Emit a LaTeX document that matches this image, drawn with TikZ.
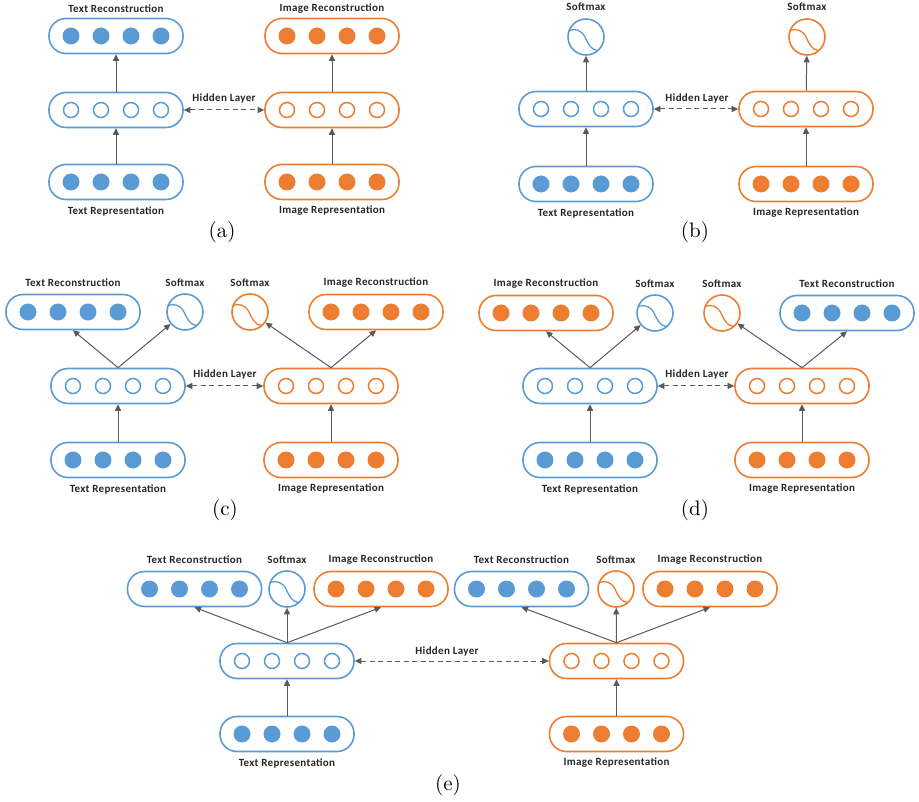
\documentclass[tikz,border=0pt]{standalone}
\usepackage{fontspec}
\newfontfamily\carlito{Carlito}[LetterSpace=3]
\newfontfamily\capfont{lmroman10-regular.otf}
\usetikzlibrary{arrows.meta}
\definecolor{tblue}{HTML}{5B9BD5}
\definecolor{torange}{HTML}{ED7D31}
\definecolor{arrowgray}{HTML}{595959}

\tikzset{
  layer/.style={draw=#1, line width=1.6pt, rounded corners=17pt, minimum width=134pt,
    minimum height=35pt, inner sep=0pt},
  dotfull/.style={circle, fill=#1, minimum size=17pt, inner sep=0pt},
  dotopen/.style={circle, draw=#1, line width=1.5pt, minimum size=15pt, inner sep=0pt},
  smbox/.style={circle, draw=#1, line width=1.6pt, minimum size=36pt, inner sep=0pt},
  smcurve/.style={draw=#1, line width=1.3pt},
  lab/.style={font=\carlito\bfseries\fontsize{11}{13}\selectfont, text=black!85, inner sep=0pt},
  caption/.style={font=\capfont\fontsize{21}{25}\selectfont, inner sep=0pt},
  feed/.style={draw=arrowgray, line width=1pt, -{Triangle[length=6.5pt,width=6pt]}},
  link/.style={draw=arrowgray, line width=1pt, dash pattern=on 5pt off 3.5pt,
    {Triangle[length=6.5pt,width=6pt]}-{Triangle[length=6.5pt,width=6pt]}},
}

% a rounded layer with four units: name, x, y, colour, unit style
\newcommand\layerbox[5]{%
  \node[layer=#4] (#1) at (#2,#3) {};
  \foreach \k/\dx in {1/-45,2/-15,3/15,4/45}
    \node[#5=#4] (#1-\k) at ([xshift=\dx pt]#1.center) {};
}
% a softmax unit drawn as a circle holding a sigmoid: name, x, y, colour
\newcommand\softmaxunit[4]{%
  \node[smbox=#4] (#1) at (#2,#3) {};
  \draw[smcurve=#4] ([shift={(-17.2,-6.5)}]#1.center)
    .. controls ([shift={(-11,-8.5)}]#1.center) and ([shift={(-5,-7.5)}]#1.center)
    .. ([shift={(-1,0)}]#1.center)
    .. controls ([shift={(2,6.5)}]#1.center) and ([shift={(5,13)}]#1.center)
    .. ([shift={(11.5,13.5)}]#1.center);
}

\begin{document}
\begin{tikzpicture}[x=1pt, y=-1pt]
\useasboundingbox (0,0) rectangle (919,802);

% ---------- (a) ----------
\layerbox{aTR}{116}{36}{tblue}{dotfull}
\layerbox{aTH}{116}{110}{tblue}{dotopen}
\layerbox{aTI}{116}{182}{tblue}{dotfull}
\layerbox{aIR}{332}{36}{torange}{dotfull}
\layerbox{aIH}{332}{110}{torange}{dotopen}
\layerbox{aII}{332}{182}{torange}{dotfull}
\node[lab] (aTRl) at (116,9) {Text Reconstruction};
\node[lab] (aIRl) at (332,9) {Image Reconstruction};
\node[lab] (aTIl) at (116,211) {Text Representation};
\node[lab] (aIIl) at (332,211) {Image Representation};
\draw[feed] (aTI) -- (aTH);
\draw[feed] (aTH) -- (aTR);
\draw[feed] (aII) -- (aIH);
\draw[feed] (aIH) -- (aIR);
\draw[link] (aTH) -- (aIH);
\node[lab] (aHl) at (224,99) {Hidden Layer};
\node[caption] (acap) at (222,232) {(a)};

% ---------- (b) ----------
\softmaxunit{bTS}{586}{37}{tblue}
\layerbox{bTH}{586}{109}{tblue}{dotopen}
\layerbox{bTI}{586}{184}{tblue}{dotfull}
\softmaxunit{bIS}{807}{37}{torange}
\layerbox{bIH}{806}{109}{torange}{dotopen}
\layerbox{bII}{806}{184}{torange}{dotfull}
\node[lab] (bTSl) at (586,7) {Softmax};
\node[lab] (bISl) at (807,7) {Softmax};
\node[lab] (bTIl) at (586,213) {Text Representation};
\node[lab] (bIIl) at (806,213) {Image Representation};
\draw[feed] (bTI) -- (bTH);
\draw[feed] (bTH) -- (bTS);
\draw[feed] (bII) -- (bIH);
\draw[feed] (bIH) -- (bIS);
\draw[link] (bTH) -- (bIH);
\node[lab] (bHl) at (697,99) {Hidden Layer};
\node[caption] (bcap) at (695,232) {(b)};

% ---------- (c) ----------
\layerbox{cTR}{73}{312}{tblue}{dotfull}
\softmaxunit{cTS}{185}{312}{tblue}
\softmaxunit{cIS}{250}{312}{torange}
\layerbox{cIR}{376}{312}{torange}{dotfull}
\layerbox{cTH}{118}{386}{tblue}{dotopen}
\layerbox{cIH}{331}{386}{torange}{dotopen}
\layerbox{cTI}{118}{460}{tblue}{dotfull}
\layerbox{cII}{331}{460}{torange}{dotfull}
\node[lab] (cTRl) at (73,283) {Text Reconstruction};
\node[lab] (cTSl) at (185,283) {Softmax};
\node[lab] (cISl) at (250,283) {Softmax};
\node[lab] (cIRl) at (376,283) {Image Reconstruction};
\node[lab] (cTIl) at (118,489) {Text Representation};
\node[lab] (cIIl) at (331,489) {Image Representation};
\draw[feed] (cTI) -- (cTH);
\draw[feed] (cTH.north) -- (cTR.south);
\draw[feed] (cTH.north) -- (cTS);
\draw[feed] (cII) -- (cIH);
\draw[feed] (cIH.north) -- (cIS);
\draw[feed] (cIH.north) -- (cIR.south);
\draw[link] (cTH) -- (cIH);
\node[lab] (cHl) at (225,375) {Hidden Layer};
\node[caption] (ccap) at (225,510) {(c)};

% ---------- (d) ----------
\layerbox{dIR}{546}{313}{torange}{dotfull}
\softmaxunit{dTS}{655}{313}{tblue}
\softmaxunit{dIS}{722}{313}{torange}
\layerbox{dTR}{847}{313}{tblue}{dotfull}
\layerbox{dTH}{590}{386}{tblue}{dotopen}
\layerbox{dIH}{802}{386}{torange}{dotopen}
\layerbox{dTI}{590}{460}{tblue}{dotfull}
\layerbox{dII}{802}{460}{torange}{dotfull}
\node[lab] (dIRl) at (546,284) {Image Reconstruction};
\node[lab] (dTSl) at (655,284) {Softmax};
\node[lab] (dISl) at (722,284) {Softmax};
\node[lab] (dTRl) at (847,284) {Text Reconstruction};
\node[lab] (dTIl) at (590,489) {Text Representation};
\node[lab] (dIIl) at (802,489) {Image Representation};
\draw[feed] (dTI) -- (dTH);
\draw[feed] (dTH.north) -- (dIR.south);
\draw[feed] (dTH.north) -- (dTS);
\draw[feed] (dII) -- (dIH);
\draw[feed] (dIH.north) -- (dIS);
\draw[feed] (dIH.north) -- (dTR.south);
\draw[link] (dTH) -- (dIH);
\node[lab] (dHl) at (697,375) {Hidden Layer};
\node[caption] (dcap) at (695,510) {(d)};

% ---------- (e) ----------
\layerbox{eTTR}{194.5}{589}{tblue}{dotfull}
\softmaxunit{eTS}{287}{589}{tblue}
\layerbox{eTIR}{381}{589}{torange}{dotfull}
\layerbox{eTH}{287}{661}{tblue}{dotopen}
\layerbox{eTI}{287}{734}{tblue}{dotfull}
\layerbox{eITR}{521.5}{589}{tblue}{dotfull}
\softmaxunit{eIS}{616}{589}{torange}
\layerbox{eIIR}{710}{589}{torange}{dotfull}
\layerbox{eIH}{616.5}{661}{torange}{dotopen}
\layerbox{eII}{616.5}{734}{torange}{dotfull}
\node[lab] (eTTRl) at (194.5,560) {Text Reconstruction};
\node[lab] (eTSl) at (287,560) {Softmax};
\node[lab] (eTIRl) at (381,560) {Image Reconstruction};
\node[lab] (eITRl) at (521.5,560) {Text Reconstruction};
\node[lab] (eISl) at (616,560) {Softmax};
\node[lab] (eIIRl) at (710,560) {Image Reconstruction};
\node[lab] (eTIl) at (287,763) {Text Representation};
\node[lab] (eIIl) at (616.5,763) {Image Representation};
\draw[feed] (eTI) -- (eTH);
\draw[feed] (eTH.north) -- (eTTR.south);
\draw[feed] (eTH.north) -- (eTS);
\draw[feed] (eTH.north) -- (eTIR.south);
\draw[feed] (eII) -- (eIH);
\draw[feed] (eIH.north) -- (eITR.south);
\draw[feed] (eIH.north) -- (eIS);
\draw[feed] (eIH.north) -- (eIIR.south);
\draw[link] (eTH) -- (eIH);
\node[lab] (eHl) at (447,652) {Hidden Layer};
\node[caption] (ecap) at (448,785) {(e)};
\end{tikzpicture}
\end{document}
